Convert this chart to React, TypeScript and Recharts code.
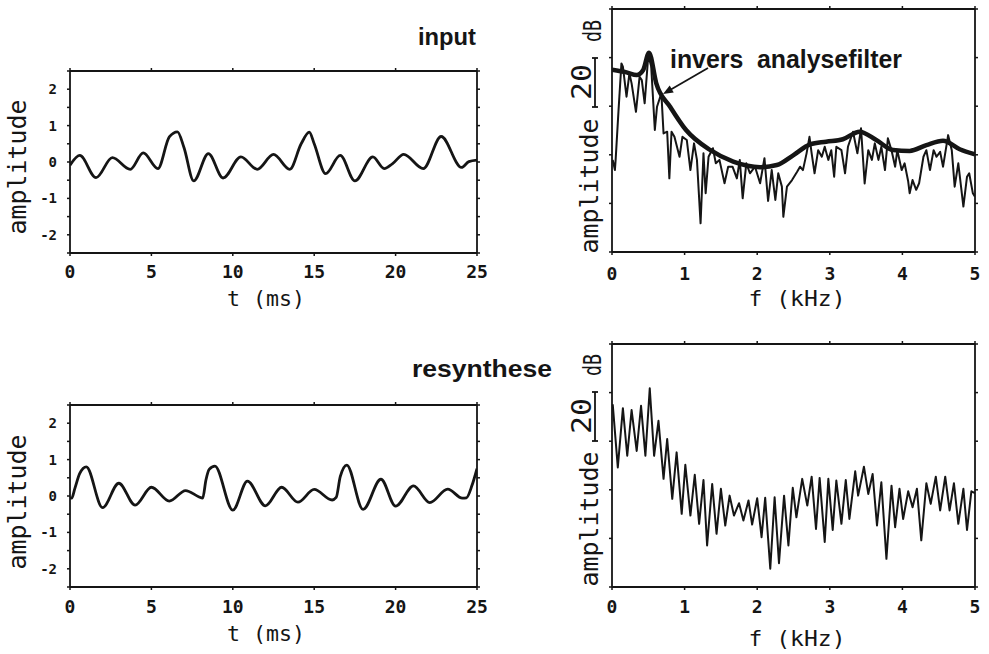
import React from "react";
import { LineChart, Line, XAxis, YAxis } from "recharts";

const W = 989;
const H = 654;
const INK = "#151515";
const MONO = "'DejaVu Sans Mono', monospace";
const SANS = "'Liberation Sans', Arial, sans-serif";

const timeTicks = [0, 5, 10, 15, 20, 25];
const ampTicks = [-2.5, -2, -1.5, -1, -0.5, 0, 0.5, 1, 1.5, 2, 2.5];
const freqTicks = [0, 1, 2, 3, 4, 5];
const dbTicks = [0, 20, 40, 60, 80, 100];

// input signal (ms, amplitude)
const inputT = [0, 0.6, 1.6, 2.6, 3.7, 4.5, 5.4, 6.1, 6.6, 7.0, 7.6, 8.5, 9.4, 10.5, 11.5, 12.5, 13.5, 14.2, 14.7, 15.0, 15.7, 16.6, 17.5, 18.6, 19.3, 19.8, 20.5, 21.7, 22.8, 24.05, 24.5, 25];
const inputAmp = [-0.09, 0.18, -0.43, 0.12, -0.2, 0.25, -0.18, 0.69, 0.83, 0.4, -0.52, 0.23, -0.44, 0.14, -0.2, 0.21, -0.2, 0.5, 0.82, 0.5, -0.32, 0.18, -0.52, 0.14, -0.18, -0.05, 0.21, -0.18, 0.7, -0.15, 0.01, 0.05];

// resynthesised signal
const resT = [0, 0.1, 0.3, 0.6, 1.0, 2.0, 3.0, 4.0, 5.0, 6.1, 7.1, 7.9, 8.15, 8.35, 8.55, 8.9, 10.0, 10.9, 12.0, 13.0, 14.0, 15.0, 16.1, 16.35, 16.6, 17.0, 18.0, 19.1, 20.0, 21.1, 22.1, 23.2, 24.1, 24.35, 24.7, 25];
const resAmp = [-0.05, -0.06, 0.21, 0.62, 0.8, -0.32, 0.35, -0.25, 0.24, -0.14, 0.15, -0.02, -0.06, 0.44, 0.73, 0.82, -0.39, 0.41, -0.27, 0.24, -0.17, 0.18, -0.11, -0.04, 0.53, 0.85, -0.37, 0.46, -0.28, 0.28, -0.18, 0.19, -0.06, -0.05, 0.3, 0.75];

// input spectrum (kHz, dB)
const specF = [0.01, 0.04, 0.05, 0.09, 0.13, 0.15, 0.2, 0.24, 0.27, 0.33, 0.38, 0.41, 0.45, 0.5, 0.54, 0.59, 0.62, 0.68, 0.71, 0.76, 0.79, 0.82, 0.86, 0.93, 0.97, 1.03, 1.08, 1.13, 1.17, 1.22, 1.26, 1.29, 1.33, 1.39, 1.43, 1.48, 1.55, 1.6, 1.66, 1.72, 1.76, 1.8, 1.85, 1.9, 1.97, 2.04, 2.1, 2.15, 2.2, 2.25, 2.29, 2.34, 2.36, 2.41, 2.48, 2.55, 2.59, 2.63, 2.68, 2.72, 2.75, 2.79, 2.84, 2.89, 2.93, 2.98, 3.02, 3.06, 3.09, 3.16, 3.21, 3.25, 3.32, 3.38, 3.43, 3.48, 3.53, 3.58, 3.62, 3.67, 3.71, 3.76, 3.8, 3.85, 3.9, 3.93, 3.99, 4.03, 4.08, 4.1, 4.14, 4.19, 4.23, 4.29, 4.33, 4.38, 4.43, 4.47, 4.52, 4.56, 4.63, 4.68, 4.72, 4.77, 4.84, 4.89, 4.92, 4.97, 5.0];
const specDb = [37.9, 33.7, 37.9, 58.4, 77.6, 76.3, 63.9, 73.5, 69.4, 57.7, 72.1, 70.8, 61.2, 81, 76.3, 50.2, 59.8, 65.3, 48.8, 49.5, 30.3, 49.5, 47.4, 39.2, 47.4, 46.1, 33.7, 44.7, 37.9, 11.8, 40.6, 24.2, 39.2, 42.7, 36.5, 37.9, 28.3, 35.1, 35.1, 30.3, 37.9, 22.1, 36.5, 32.4, 35.1, 28.3, 38.6, 21, 33.7, 21.4, 32.4, 26.9, 14.5, 26.9, 29.6, 33, 35.1, 33.7, 40.6, 47.4, 40.6, 32.4, 41.9, 39.2, 43.3, 37.9, 41.9, 31, 43.3, 41.9, 32.4, 43.3, 49.5, 40.6, 50.9, 28.2, 41.9, 37.9, 44.7, 37.9, 43.3, 33.7, 46.8, 41.9, 35.1, 41.9, 33.7, 36.5, 29, 24.2, 29.6, 25.6, 28.3, 39.2, 41.9, 33.7, 41.9, 39.2, 41.2, 35.1, 48.1, 41.9, 26.9, 36.5, 18.7, 31, 32.4, 24.2, 22.8];

// inverse analysis filter envelope
const envF = [0, 0.2, 0.34, 0.43, 0.51, 0.61, 0.8, 1.02, 1.35, 1.67, 2.04, 2.27, 2.5, 2.73, 2.95, 3.18, 3.41, 3.64, 3.87, 4.1, 4.33, 4.56, 4.79, 5.0];
const envDb = [75, 73.9, 72.8, 74.9, 82, 69.4, 59.8, 50.2, 42, 37.2, 34.9, 35.8, 39.9, 44.3, 45.4, 46.4, 49.5, 46.1, 42, 41.6, 44, 45.8, 42.3, 40.2];

// resynthesised spectrum
const resSpecF = [0.01, 0.08, 0.15, 0.21, 0.27, 0.34, 0.4, 0.46, 0.52, 0.58, 0.64, 0.71, 0.76, 0.83, 0.89, 0.96, 1.01, 1.08, 1.14, 1.2, 1.26, 1.31, 1.38, 1.44, 1.5, 1.56, 1.62, 1.68, 1.75, 1.81, 1.88, 1.93, 2.0, 2.06, 2.11, 2.18, 2.24, 2.3, 2.37, 2.43, 2.49, 2.54, 2.62, 2.69, 2.75, 2.81, 2.86, 2.93, 2.98, 3.04, 3.09, 3.16, 3.22, 3.27, 3.35, 3.39, 3.47, 3.53, 3.59, 3.65, 3.71, 3.78, 3.85, 3.9, 3.96, 4.01, 4.08, 4.14, 4.2, 4.26, 4.33, 4.39, 4.46, 4.52, 4.59, 4.65, 4.71, 4.77, 4.84, 4.89, 4.95, 5.0];
const resSpecDb = [75.2, 49.2, 73.6, 54, 72.8, 56, 74.6, 54, 81.8, 54, 68.4, 44.5, 60.9, 36.3, 55.4, 30.1, 50.3, 29.4, 46.2, 26, 44, 17.1, 42.4, 21.9, 40.4, 25.3, 37.6, 29.4, 34.5, 27.4, 35.6, 25.7, 36.5, 20.5, 36.7, 7.5, 36.9, 9.8, 37.6, 17.1, 40.8, 28.7, 44.5, 33.5, 45.4, 23.9, 44.9, 18.5, 44.5, 23.5, 43.8, 26, 44, 28, 47.6, 37.6, 49.5, 38.3, 46.5, 25.3, 43.1, 11.6, 41.7, 24.6, 40.4, 28, 39.4, 32.8, 40.4, 19.2, 42.7, 34.2, 45.4, 31.5, 45.4, 31.5, 42.7, 26, 40.4, 23.5, 39.4, 38.6];

const zip = (xs: number[], ys: number[]) => xs.map((x, i) => ({ x, y: ys[i] }));

type Rect = { left: number; top: number; right: number; bottom: number };
type Series = { data: { x: number; y: number }[]; width: number; curve: "monotone" | "linear" };

interface PanelProps {
  rect: Rect;
  xDomain: [number, number];
  xTicks: number[];
  yDomain: [number, number];
  yTicks: number[];
  showYLabels: boolean;
  xFont: number;
  xGap: number;
  series: Series[];
}

const LEFT_W = 60;
const SIDE = 8;
const BOTTOM_H = 30;

function Panel({ rect, xDomain, xTicks, yDomain, yTicks, showYLabels, xFont, xGap, series }: PanelProps) {
  const margin = {
    top: rect.top - SIDE,
    left: rect.left - LEFT_W,
    right: W - rect.right - SIDE,
    bottom: H - rect.bottom - BOTTOM_H,
  };
  const axisLine = { stroke: INK, strokeWidth: 1.8 };
  const tickLine = { stroke: INK, strokeWidth: 1.5 };
  const blank = () => "";
  return (
    <div style={{ position: "absolute", left: 0, top: 0 }}>
      <LineChart width={W} height={H} margin={margin}>
        <XAxis
          type="number"
          dataKey="x"
          domain={xDomain}
          ticks={xTicks}
          interval={0}
          allowDataOverflow
          height={BOTTOM_H}
          axisLine={axisLine}
          tickLine={tickLine}
          tickSize={3}
          tickMargin={xGap}
          tick={{ fontFamily: MONO, fontWeight: 700, fontSize: xFont, fill: INK }}
        />
        <XAxis
          xAxisId="top"
          orientation="top"
          type="number"
          dataKey="x"
          domain={xDomain}
          ticks={xTicks}
          interval={0}
          allowDataOverflow
          height={SIDE}
          axisLine={axisLine}
          tickLine={tickLine}
          tickSize={3}
          tickFormatter={blank}
        />
        <YAxis
          type="number"
          dataKey="y"
          domain={yDomain}
          ticks={yTicks}
          interval={0}
          allowDataOverflow
          width={LEFT_W}
          axisLine={axisLine}
          tickLine={tickLine}
          tickSize={3}
          tickMargin={10}
          tickFormatter={(v: number) => (showYLabels && Number.isInteger(v) && Math.abs(v) < 2.5 ? String(v) : "")}
          tick={{ fontFamily: MONO, fontWeight: 700, fontSize: 14, fill: INK }}
        />
        <YAxis
          yAxisId="right"
          orientation="right"
          type="number"
          dataKey="y"
          domain={yDomain}
          ticks={yTicks}
          interval={0}
          allowDataOverflow
          width={SIDE}
          axisLine={axisLine}
          tickLine={tickLine}
          tickSize={3}
          tickFormatter={blank}
        />
        {series.map((s, i) => (
          <Line
            key={i}
            data={s.data}
            dataKey="y"
            type={s.curve}
            stroke={INK}
            strokeWidth={s.width}
            strokeLinejoin="round"
            dot={false}
            activeDot={false}
            isAnimationActive={false}
          />
        ))}
      </LineChart>
    </div>
  );
}

function VText({ x, y, len, size, children }: { x: number; y: number; len: number; size: number; children: string }) {
  return (
    <text
      x={x}
      y={y}
      transform={`rotate(-90 ${x} ${y})`}
      textAnchor="middle"
      dominantBaseline="central"
      fontFamily={MONO}
      fontSize={size}
      fill={INK}
      textLength={len}
      lengthAdjust="spacingAndGlyphs"
    >
      {children}
    </text>
  );
}

function DbBar({ top }: { top: number }) {
  const bottom = top + 49;
  return (
    <g stroke={INK} strokeWidth={1.8}>
      <line x1={595} y1={top} x2={595} y2={bottom} />
      <line x1={592} y1={top} x2={598} y2={top} />
      <line x1={592} y1={bottom} x2={598} y2={bottom} />
    </g>
  );
}

export default function App() {
  return (
    <div style={{ position: "absolute", left: 0, top: 0, width: W, height: H, background: "#fff", overflow: "hidden" }}>
      <Panel
        rect={{ left: 70, top: 71, right: 477, bottom: 253 }}
        xDomain={[0, 25]}
        xTicks={timeTicks}
        yDomain={[-2.5, 2.5]}
        yTicks={ampTicks}
        showYLabels
        xFont={18}
        xGap={9}
        series={[{ data: zip(inputT, inputAmp), width: 2.8, curve: "monotone" }]}
      />
      <Panel
        rect={{ left: 612, top: 9, right: 975, bottom: 252 }}
        xDomain={[0, 5]}
        xTicks={freqTicks}
        yDomain={[0, 100]}
        yTicks={dbTicks}
        showYLabels={false}
        xFont={18}
        xGap={12}
        series={[
          { data: zip(specF, specDb), width: 2, curve: "linear" },
          { data: zip(envF, envDb), width: 4.5, curve: "monotone" },
        ]}
      />
      <Panel
        rect={{ left: 70, top: 405, right: 477, bottom: 587 }}
        xDomain={[0, 25]}
        xTicks={timeTicks}
        yDomain={[-2.5, 2.5]}
        yTicks={ampTicks}
        showYLabels
        xFont={18}
        xGap={10}
        series={[{ data: zip(resT, resAmp), width: 2.8, curve: "monotone" }]}
      />
      <Panel
        rect={{ left: 612, top: 344, right: 975, bottom: 587 }}
        xDomain={[0, 5]}
        xTicks={freqTicks}
        yDomain={[0, 100]}
        yTicks={dbTicks}
        showYLabels={false}
        xFont={18}
        xGap={10}
        series={[{ data: zip(resSpecF, resSpecDb), width: 2, curve: "linear" }]}
      />
      <svg width={W} height={H} style={{ position: "absolute", left: 0, top: 0, pointerEvents: "none" }}>
        <VText x={18} y={167} len={135} size={24}>amplitude</VText>
        <VText x={18} y={502} len={135} size={24}>amplitude</VText>
        <VText x={590} y={186} len={135} size={24}>amplitude</VText>
        <VText x={590} y={519} len={135} size={24}>amplitude</VText>
        <VText x={582} y={82} len={36} size={26}>20</VText>
        <VText x={582} y={416} len={36} size={26}>20</VText>
        <VText x={593} y={31} len={22} size={24}>dB</VText>
        <VText x={593} y={365} len={22} size={24}>dB</VText>
        <DbBar top={58} />
        <DbBar top={392} />

        <text x={266} y={298} textAnchor="middle" dominantBaseline="central" fontFamily={MONO} fontSize={22} fill={INK} textLength={78} lengthAdjust="spacingAndGlyphs">t (ms)</text>
        <text x={266} y={633} textAnchor="middle" dominantBaseline="central" fontFamily={MONO} fontSize={22} fill={INK} textLength={78} lengthAdjust="spacingAndGlyphs">t (ms)</text>
        <text x={797} y={298} textAnchor="middle" dominantBaseline="central" fontFamily={MONO} fontSize={22} fill={INK} textLength={97} lengthAdjust="spacingAndGlyphs">f (kHz)</text>
        <text x={797} y={638} textAnchor="middle" dominantBaseline="central" fontFamily={MONO} fontSize={22} fill={INK} textLength={97} lengthAdjust="spacingAndGlyphs">f (kHz)</text>

        <text x={476} y={45} textAnchor="end" fontFamily={SANS} fontWeight={700} fontSize={24} fill={INK} textLength={58} lengthAdjust="spacingAndGlyphs">input</text>
        <text x={552} y={377} textAnchor="end" fontFamily={SANS} fontWeight={700} fontSize={24} fill={INK} textLength={140} lengthAdjust="spacingAndGlyphs">resynthese</text>
        <text x={670} y={68} fontFamily={SANS} fontWeight={700} fontSize={25} fill={INK} textLength={232} lengthAdjust="spacingAndGlyphs" xmlSpace="preserve">invers  analysefilter</text>

        <line x1={708} y1={68} x2={670} y2={90} stroke={INK} strokeWidth={1.8} />
        <polygon points="663,94 673.7,92.5 669.7,85.5" fill={INK} />
      </svg>
    </div>
  );
}
